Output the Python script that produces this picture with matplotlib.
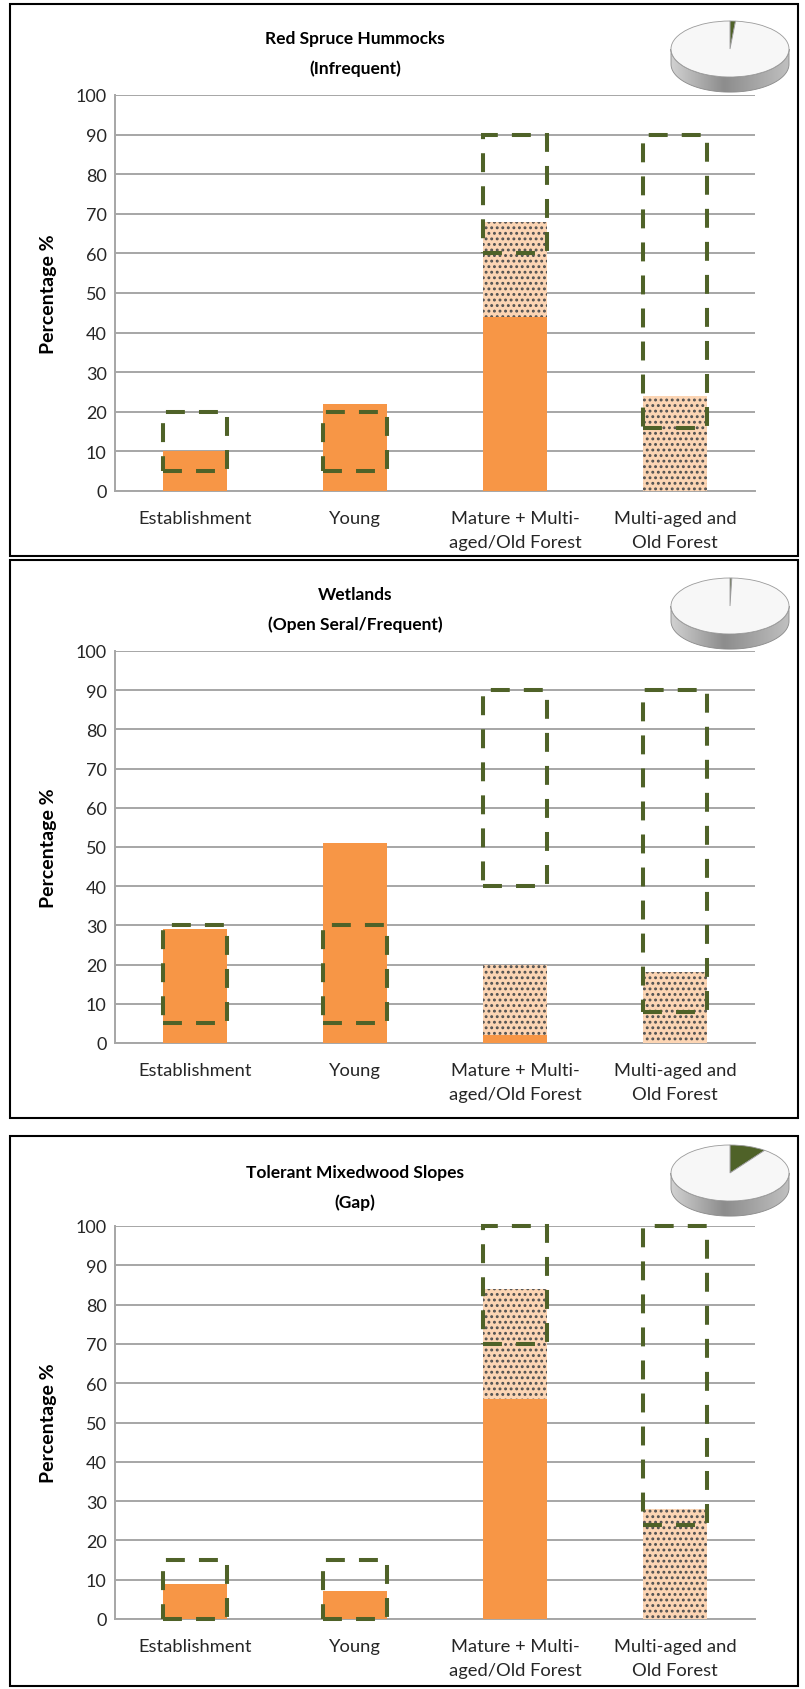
import numpy as np
import matplotlib
matplotlib.use('Agg')
import matplotlib.pyplot as plt
from matplotlib.patches import Rectangle, Polygon

plt.rcParams['font.family'] = ['Lato', 'DejaVu Sans']
plt.rcParams['hatch.linewidth'] = 1.3

# Data
categories = ['Establishment', 'Young', 'Mature + Multi-\naged/Old Forest', 'Multi-aged and\nOld Forest']
titles = ['Red Spruce Hummocks\n(Infrequent)',
          'Wetlands\n(Open Seral/Frequent)',
          'Tolerant Mixedwood Slopes\n(Gap)']

# solid orange part of each bar
hummocks_solid = [10, 22, 44, 0]
wetlands_solid = [29, 51, 2, 0]
mixedwood_solid = [9, 7, 56, 0]

# dotted part stacked on the solid part
hummocks_dotted = [0, 0, 24, 24]
wetlands_dotted = [0, 0, 18, 18]
mixedwood_dotted = [0, 0, 28, 28]

# dashed target range (low, high)
hummocks_low = [5, 5, 60, 16]
hummocks_high = [20, 20, 90, 90]
wetlands_low = [5, 5, 40, 8]
wetlands_high = [30, 30, 90, 90]
mixedwood_low = [0, 0, 70, 24]
mixedwood_high = [15, 15, 100, 100]

# share of the small pie in the corner (%)
pie_share = [1.5, 0.5, 10]

solids = [hummocks_solid, wetlands_solid, mixedwood_solid]
dotteds = [hummocks_dotted, wetlands_dotted, mixedwood_dotted]
lows = [hummocks_low, wetlands_low, mixedwood_low]
highs = [hummocks_high, wetlands_high, mixedwood_high]

ORANGE = '#F79646'
PEACH = '#FCD5B4'
GREEN = '#4F6228'
GRID = '#A6A6A6'

W, H = 805, 1690
fig = plt.figure(figsize=(W / 100, H / 100), dpi=100)
fig.patch.set_facecolor('white')

def fx(px):
    return px / W

def fy(py):
    return 1 - py / H

# panel layout in pixels:
# (box top, box bottom, axis top(100), axis bottom(0), title y, pie centre y)
panels = [(5, 557, 96, 492, 54, 50),
          (561, 1119, 652, 1044, 610, 607),
          (1137, 1687, 1227, 1620, 1188, 1174)]

x = np.arange(len(categories))
bw = 0.4

for i, (btop, bbot, atop, abot, ty, py) in enumerate(panels):
    # frame around the panel
    fig.add_artist(Rectangle((fx(10), fy(bbot)), fx(788), (bbot - btop) / H,
                             transform=fig.transFigure, fill=False,
                             ec='black', lw=1.5))

    ax = fig.add_axes([fx(115), fy(abot), fx(755 - 115), (abot - atop) / H])
    ax.bar(x, solids[i], width=bw, color=ORANGE, zorder=3)
    ax.bar(x, dotteds[i], width=bw, bottom=solids[i], color=PEACH,
           edgecolor='#505050', linewidth=0, hatch='...', zorder=3)
    heights = [h - l for h, l in zip(highs[i], lows[i])]
    ax.bar(x, heights, width=bw, bottom=lows[i], fill=False,
           edgecolor=GREEN, linewidth=2.9, linestyle=(0, (4.7, 3.5)),
           zorder=4, clip_on=False)

    ax.set_xlim(-0.5, 3.5)
    ax.set_ylim(0, 100)
    ax.set_yticks(range(0, 101, 10))
    ax.yaxis.grid(True, color=GRID, lw=1.4, zorder=0)
    ax.set_axisbelow(True)
    for s in ['top', 'right']:
        ax.spines[s].set_visible(False)
    for s in ['left', 'bottom']:
        ax.spines[s].set_color(GRID)
        ax.spines[s].set_linewidth(1.4)
    ax.tick_params(axis='both', length=0, labelsize=13, colors='#262626')
    ax.tick_params(axis='y', pad=6)
    ax.tick_params(axis='x', pad=14)
    ax.set_xticks(x)
    ax.set_xticklabels(categories, fontsize=13.2, linespacing=1.55)
    ax.set_ylabel('Percentage %', fontsize=14, fontweight='bold', labelpad=13)

    fig.text(fx(355), fy(ty), titles[i], ha='center', va='center',
             fontsize=12.5, fontweight='bold', linespacing=2.0)

    # small 3D-looking pie in the corner
    sx, sy = 59, 28
    cx = 730
    pax = fig.add_axes([fx(cx - 1.06 * sx), fy(py + 1.6 * sy), 2.12 * sx / W, 2.66 * sy / H])
    pax.pie([pie_share[i], 100 - pie_share[i]], startangle=90, counterclock=False,
            colors=[GREEN, '#F7F7F7'], radius=1,
            wedgeprops=dict(edgecolor='#9a9a9a', linewidth=0.6))
    pax.set_aspect('auto')
    t = np.linspace(np.pi, 2 * np.pi, 100)
    depth = 0.54
    side = np.concatenate([np.c_[np.cos(t), np.sin(t)],
                           np.c_[np.cos(t[::-1]), np.sin(t[::-1]) - depth]])
    poly = Polygon(side, closed=True, facecolor='none', edgecolor='#8a8a8a', lw=0.6, zorder=0)
    pax.add_patch(poly)
    grad = np.interp(np.linspace(0, 1, 200), [0, 0.45, 1], [0.82, 0.55, 0.75])
    img = pax.imshow(np.tile(grad, (10, 1)), cmap='gray', vmin=0, vmax=1,
                     extent=[-1, 1, -1 - depth, 0], aspect='auto', zorder=-1)
    img.set_clip_path(poly)
    pax.set_xlim(-1.06, 1.06)
    pax.set_ylim(-1.6, 1.06)
    pax.axis('off')

fig.savefig('out.png', dpi=100)
